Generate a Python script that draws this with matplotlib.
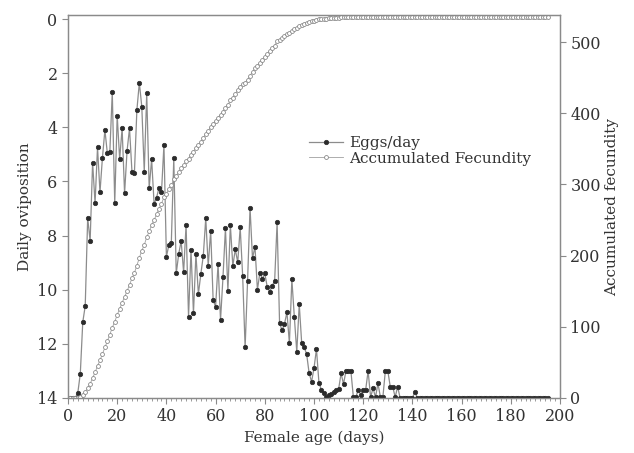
import numpy as np
import matplotlib
matplotlib.use("Agg")
import matplotlib.pyplot as plt
from matplotlib.ticker import MultipleLocator

# Female age (days)
days = np.arange(0, 196)

# Daily oviposition as read on the (inverted) left axis, days 0..141; 14 afterwards
daily_head = [
    14, 14, 14, 14, 13.8, 13.1, 11.2, 10.6, 7.35, 8.2,          # 0-9
    5.3, 6.8, 4.74, 6.4, 5.12, 4.1, 4.96, 4.92, 2.7, 6.8,        # 10-19
    3.57, 5.17, 4.04, 6.44, 4.88, 4.04, 5.64, 5.68, 3.36, 2.35,  # 20-29
    3.24, 5.64, 2.75, 6.25, 5.18, 6.83, 6.6, 6.23, 6.4, 4.65,    # 30-39
    8.78, 8.35, 8.26, 5.15, 9.4, 8.68, 8.2, 9.36, 7.6, 11.0,     # 40-49
    8.53, 10.87, 8.68, 10.16, 9.42, 8.74, 7.36, 9.12, 7.82, 10.38,  # 50-59
    10.63, 9.05, 11.12, 9.54, 7.73, 10.04, 7.61, 9.12, 8.51, 8.99,  # 60-69
    7.7, 9.49, 12.13, 9.67, 6.97, 8.84, 8.41, 10.0, 9.37, 9.6,      # 70-79
    9.4, 9.9, 10.07, 9.85, 9.68, 7.51, 11.22, 11.5, 11.27, 10.83,   # 80-89
    11.98, 9.62, 11.0, 12.3, 10.53, 11.98, 12.13, 12.37, 13.07, 13.4,  # 90-99
    12.9, 12.19, 13.43, 13.7, 13.8, 13.95, 13.9, 13.86, 13.77, 13.7,   # 100-109
    13.68, 13.09, 13.48, 13.0, 13.0, 13.0, 13.97, 13.97, 13.7, 13.89,  # 110-119
    13.7, 13.7, 13.0, 13.97, 13.64, 13.97, 13.46, 13.97, 13.97, 13.0,  # 120-129
    13.0, 13.58, 13.58, 13.97, 13.58, 14, 14, 14, 14, 14,              # 130-139
    14, 13.77,                                                         # 140-141
]
daily_tail = [14] * (len(days) - len(daily_head))
daily = np.array(daily_head + daily_tail)

# Accumulated fecundity as read on the right axis, days 0..112; plateau afterwards
accum_head = [
    0, 0, 0, 0, 0.3, 1.5, 4, 8, 14, 20,                    # 0-9
    28, 36, 45, 53, 62, 71, 80, 89, 99, 107,               # 10-19
    117, 125, 134, 142, 150, 159, 168, 176, 186, 197,      # 20-29
    207, 215, 226, 234, 243, 250, 258, 266, 273, 282,      # 30-39
    287, 293, 299, 307, 312, 317, 323, 327, 333, 336,      # 40-49
    342, 346, 351, 355, 360, 365, 371, 375, 381, 385,      # 50-59
    389, 394, 398, 402, 408, 412, 418, 422, 427, 432,      # 60-69
    437, 441, 443, 447, 453, 458, 463, 467, 471, 475,      # 70-79
    479, 483, 487, 491, 495, 501, 503, 505, 508, 511,      # 80-89
    513, 516, 518, 520, 522, 524, 526, 527, 528, 529,      # 90-99
    530, 531, 532, 532.5, 533, 533, 533.5, 533.5, 534, 534,  # 100-109
    534, 534.5, 534.5,                                     # 110-112
]
accum_tail = [535] * (len(days) - len(accum_head))
accumulated = np.array(accum_head + accum_tail)

xticks = list(range(0, 201, 20))
left_ticks = list(range(0, 15, 2))
right_ticks = list(range(0, 501, 100))

serif = "DejaVu Serif"
plt.rcParams["font.family"] = serif

fig = plt.figure(figsize=(6.34, 4.53), dpi=100)
ax = fig.add_axes([68 / 634, 1 - 398 / 453, (560 - 68) / 634, (398 - 15) / 453])
ax2 = ax.twinx()

spine_c = "#8a8a8a"
text_c = "#333333"

l1, = ax.plot(days, daily, color="#8c8c8c", lw=0.9, marker="o", ms=3.2,
              mfc="#2b2b2b", mec="#2b2b2b", mew=0.5, label="Eggs/day", zorder=3)
l2, = ax2.plot(days, accumulated, color="#a0a0a0", lw=0.6, marker="o", ms=2.8,
               mfc="white", mec="#8a8a8a", mew=0.6, label="Accumulated Fecundity", zorder=2)

ax.set_xlim(0, 200)
ax.set_ylim(14, -0.15)
ax2.set_ylim(0, 538)

ax.set_xticks(xticks)
ax.xaxis.set_minor_locator(MultipleLocator(2))
ax.set_yticks(left_ticks)
ax2.set_yticks(right_ticks)

for a in (ax, ax2):
    for s in a.spines.values():
        s.set_color(spine_c)
        s.set_linewidth(0.9)
    a.tick_params(axis="both", which="major", direction="out", length=4, width=0.8,
                  color=spine_c, labelcolor=text_c, labelsize=11.5)
    a.tick_params(axis="both", which="minor", direction="out", length=2.5, width=0.6,
                  color=spine_c)

ax.set_xlabel("Female age (days)", fontsize=11, color=text_c, labelpad=4)
ax.set_ylabel("Daily oviposition", fontsize=11, color=text_c, labelpad=4)
ax2.set_ylabel("Accumulated fecundity", fontsize=11, color=text_c, labelpad=3)

leg = ax2.legend(handles=[l1, l2], loc="upper left", frameon=False,
                 bbox_to_anchor=((309 - 68) / 492, (398 - 136) / 383),
                 borderpad=0, borderaxespad=0, handlelength=2.2, handletextpad=0.45,
                 labelspacing=0.1, fontsize=11)
for t in leg.get_texts():
    t.set_color(text_c)

fig.savefig("out.png", dpi=100)
